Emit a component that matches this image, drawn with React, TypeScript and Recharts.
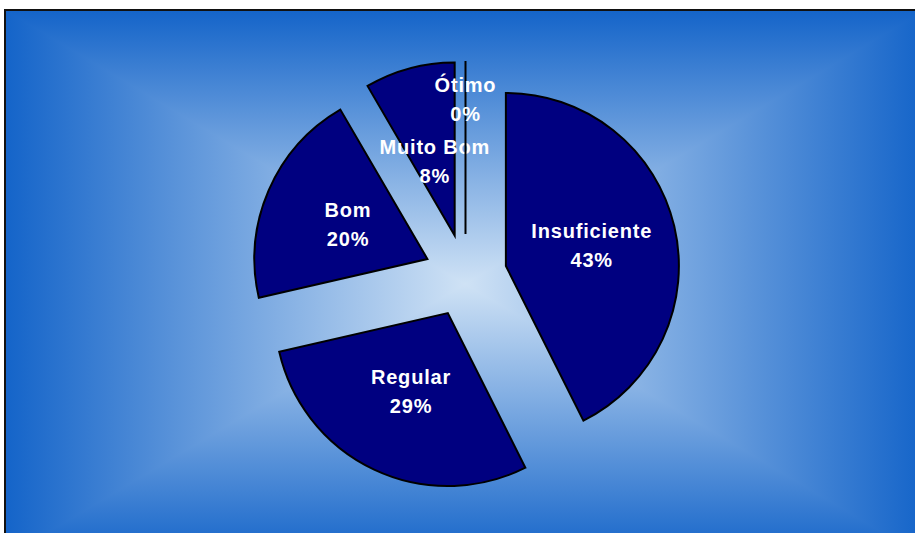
import React from "react";
import { PieChart, Pie, Cell } from "recharts";

const categories = ["Insuficiente", "Regular", "Bom", "Muito Bom", "Ótimo"];
// shares; labels round them to 43%, 29%, 20%, 8%, 0%
const shares = [42.6, 28.8, 20.2, 8.4, 0];
// how far out each label sits, as a share of the radius
const labelRadius = [0.51, 0.5, 0.5, 0.44, 0.78];

const data = categories.map((name, i) => ({ name, value: shares[i] }));
const total = shares.reduce((a, b) => a + b, 0);

const W = 915;
const H = 533;
const CX = 465.5;
const CY = 275.5;
const R = 173;
const EXPLODE = 41.5;

const FRAME = { x: 5, y: 10, w: 920, h: 548 };
const EDGE = "#1464C9";
const MIDDLE = "#CFE2F5";

// offset of each slice along its middle angle (clockwise from 12 o'clock)
const offsets = shares.map((v, i) => {
  const before = shares.slice(0, i).reduce((a, b) => a + b, 0);
  const mid = ((before + v / 2) / total) * 2 * Math.PI;
  return { dx: EXPLODE * Math.sin(mid), dy: -EXPLODE * Math.cos(mid) };
});

const RADIAN = Math.PI / 180;

const makeLabel = (target: number) => (props: any) => {
  const name = props.name ?? props.payload?.name;
  if (name !== categories[target]) return null;
  const { cx, cy, midAngle, outerRadius, percent } = props;
  const cos = Math.cos(-midAngle * RADIAN);
  const sin = Math.sin(-midAngle * RADIAN);
  const f = labelRadius[target];
  const x = cx + outerRadius * f * cos;
  const y = cy + outerRadius * f * sin;
  const textStyle = {
    fill: "#fff",
    fontFamily: "'Liberation Sans', Arial, sans-serif",
    fontWeight: 700,
    fontSize: 20,
    letterSpacing: 0.8,
  };
  return (
    <g>
      {percent === 0 && (
        <line
          x1={cx}
          y1={cy}
          x2={cx + outerRadius * cos}
          y2={cy + outerRadius * sin}
          stroke="#000"
          strokeWidth={2}
        />
      )}
      <text x={x} y={y - 14.5} textAnchor="middle" dominantBaseline="central" style={textStyle}>
        {name}
      </text>
      <text x={x} y={y + 14.5} textAnchor="middle" dominantBaseline="central" style={textStyle}>
        {Math.round(percent * 100)}%
      </text>
    </g>
  );
};

const Background: React.FC = () => {
  const { x, y, w, h } = FRAME;
  const mx = x + w / 2;
  const my = y + h / 2;
  return (
    <svg width={W} height={H} style={{ position: "absolute", left: 0, top: 0 }}>
      <defs>
        <linearGradient id="gTop" gradientUnits="userSpaceOnUse" x1={0} y1={y} x2={0} y2={my}>
          <stop offset="0" stopColor={EDGE} />
          <stop offset="1" stopColor={MIDDLE} />
        </linearGradient>
        <linearGradient id="gBottom" gradientUnits="userSpaceOnUse" x1={0} y1={y + h} x2={0} y2={my}>
          <stop offset="0" stopColor={EDGE} />
          <stop offset="1" stopColor={MIDDLE} />
        </linearGradient>
        <linearGradient id="gLeft" gradientUnits="userSpaceOnUse" x1={x} y1={0} x2={mx} y2={0}>
          <stop offset="0" stopColor={EDGE} />
          <stop offset="1" stopColor={MIDDLE} />
        </linearGradient>
        <linearGradient id="gRight" gradientUnits="userSpaceOnUse" x1={x + w} y1={0} x2={mx} y2={0}>
          <stop offset="0" stopColor={EDGE} />
          <stop offset="1" stopColor={MIDDLE} />
        </linearGradient>
      </defs>
      <rect x={0} y={0} width={W} height={H} fill="#fff" />
      {/* left/right halves first, top/bottom triangles over them so the seams blend */}
      <rect x={x} y={y} width={mx - x + 1} height={h} fill="url(#gLeft)" />
      <rect x={mx - 1} y={y} width={x + w - mx + 1} height={h} fill="url(#gRight)" />
      <polygon points={`${x},${y} ${x + w},${y} ${mx},${my}`} fill="url(#gTop)" />
      <polygon points={`${x},${y + h} ${x + w},${y + h} ${mx},${my}`} fill="url(#gBottom)" />
      <rect x={x} y={y} width={w} height={h} fill="none" stroke="#111" strokeWidth={2} />
    </svg>
  );
};

const App: React.FC = () => {
  return (
    <div style={{ position: "absolute", left: 0, top: 0, width: W, height: H, overflow: "hidden" }}>
      <Background />
      <div style={{ position: "absolute", left: 0, top: 0 }}>
        <PieChart width={W} height={H} margin={{ top: 0, right: 0, bottom: 0, left: 0 }}>
          {categories.map((cat, t) => (
            <Pie
              key={cat}
              data={data}
              dataKey="value"
              nameKey="name"
              cx={CX + offsets[t].dx}
              cy={CY + offsets[t].dy}
              outerRadius={R}
              startAngle={90}
              endAngle={-270}
              isAnimationActive={false}
              labelLine={false}
              label={makeLabel(t)}
            >
              {data.map((d, i) => (
                <Cell
                  key={d.name}
                  fill={i === t ? "#000080" : "none"}
                  stroke={i === t ? "#000" : "none"}
                  strokeWidth={2}
                />
              ))}
            </Pie>
          ))}
        </PieChart>
      </div>
    </div>
  );
};

export default App;
